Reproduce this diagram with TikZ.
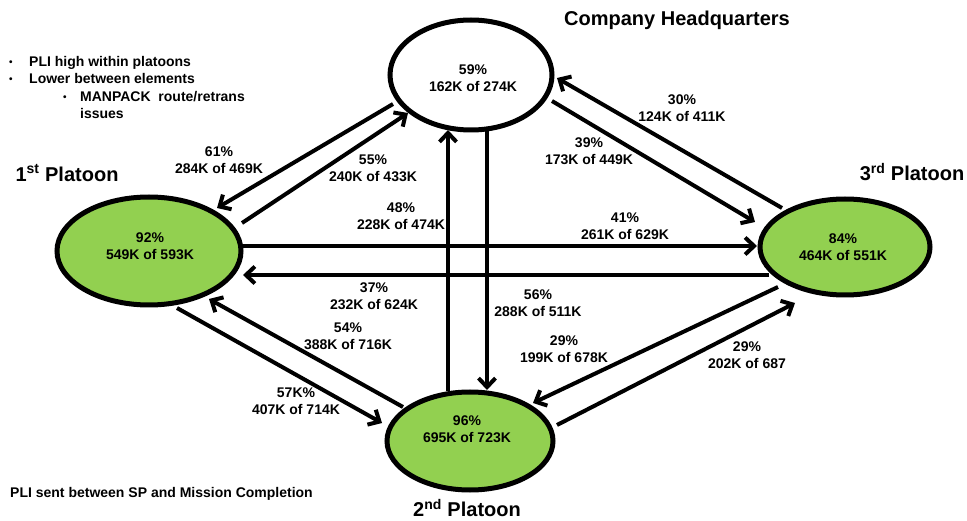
\documentclass[tikz,border=0pt]{standalone}
\usepackage{fontspec}
\setmainfont{Liberation Sans}
\usetikzlibrary{shapes.geometric,arrows.meta,calc}
\definecolor{plgreen}{RGB}{146,208,80}
\tikzset{
  oval/.style={ellipse, draw=black, line width=5pt, inner sep=0pt},
  plat/.style={oval, fill=plgreen},
  conn/.style={line width=4pt, -{Straight Barb[length=9pt,width=17pt]}},
  lab/.style={font=\fontsize{14}{17}\selectfont\bfseries, align=center, inner sep=0pt},
  ttl/.style={font=\fontsize{20}{24}\selectfont\bfseries, inner sep=0pt},
  txt/.style={font=\fontsize{14}{17}\selectfont\bfseries, inner sep=0pt, anchor=base west},
  bul/.style={font=\fontsize{10}{12}\selectfont\bfseries, inner sep=0pt, anchor=base west},
}
\begin{document}
\begin{tikzpicture}[x=1pt,y=-1pt]
\useasboundingbox (0,0) rectangle (967,521);
% ellipses
\node[oval, minimum width=162pt, minimum height=110pt] (hq) at (471,75) {};
\node[plat, minimum width=184pt, minimum height=108pt] (p1) at (149,251) {};
\node[plat, minimum width=170pt, minimum height=96pt] (p3) at (845,247) {};
\node[plat, minimum width=166pt, minimum height=98pt] (p2) at (470,441) {};
% ellipse texts
\node[lab] (hqt) at ($(hq)+(2,3)$) {59\%\\162K of 274K};
\node[lab] (p1t) at ($(p1)+(1,-5)$) {92\%\\549K of 593K};
\node[lab] (p3t) at ($(p3)+(-2,0)$) {84\%\\464K of 551K};
\node[lab] (p2t) at ($(p2)+(-3,-12)$) {96\%\\695K of 723K};
% titles
\node[ttl] (hqn) at (677,20) {Company Headquarters};
\node[ttl] (p1n) at (67,173) {1\textsuperscript{st} Platoon};
\node[ttl] (p3n) at (912,172) {3\textsuperscript{rd} Platoon};
\node[ttl] (p2n) at (467,508) {2\textsuperscript{nd} Platoon};
% notes
\node[bul] (b1) at (9,66) {•};
\node[txt] (n1) at (29,67) {PLI high within platoons};
\node[bul] (b2) at (9,83) {•};
\node[txt] (n2) at (29,84) {Lower between elements};
\node[bul] (b3) at (63,101) {•};
\node[txt] (n3) at (80,102) {MANPACK\ \ route/retrans};
\node[txt] (n4) at (80,119) {issues};
\node[txt] (n5) at (10,497) {PLI sent between SP and Mission Completion};
% connectors
\draw[conn] ($(hq)+(-78,29)$) -- ($(p1)+(68,-43)$);
\draw[conn] ($(p1)+(93,-28)$) -- ($(hq)+(-63,38)$);
\draw[conn] ($(p1)+(94,-5)$) -- ($(p3)+(-88,-1)$);
\draw[conn] ($(p3)+(-76,28)$) -- ($(p1)+(94,24)$);
\draw[conn] ($(p2)+(-22,-50)$) -- ($(hq)+(-23,55)$);
\draw[conn] ($(hq)+(16,56)$) -- ($(p2)+(17,-51)$);
\draw[conn] ($(p1)+(28,57)$) -- ($(p2)+(-88,-18)$);
\draw[conn] ($(p2)+(-67,-34)$) -- ($(p1)+(60,48)$);
\draw[conn] ($(p3)+(-67,40)$) -- ($(p2)+(63,-38)$);
\draw[conn] ($(p2)+(87,-16)$) -- ($(p3)+(-50,56)$);
\draw[conn] ($(hq)+(81,26)$) -- ($(p3)+(-90,-25)$);
\draw[conn] ($(p3)+(-63,-39)$) -- ($(hq)+(86,3)$);
% connector labels
\node[lab] (l1) at (219,160) {61\%\\284K of 469K};
\node[lab] (l2) at (373,168) {55\%\\240K of 433K};
\node[lab] (l3) at (401,216) {48\%\\228K of 474K};
\node[lab] (l4) at (625,226) {41\%\\261K of 629K};
\node[lab] (l5) at (682,108) {30\%\\124K of 411K};
\node[lab] (l6) at (589,151) {39\%\\173K of 449K};
\node[lab] (l7) at (374,296) {37\%\\232K of 624K};
\node[lab] (l8) at (348,336) {54\%\\388K of 716K};
\node[lab] (l9) at (296,401) {57K\%\\407K of 714K};
\node[lab] (l10) at (538,303) {56\%\\288K of 511K};
\node[lab] (l11) at (564,349) {29\%\\199K of 678K};
\node[lab] (l12) at (747,355) {29\%\\202K of 687};
\end{tikzpicture}
\end{document}
